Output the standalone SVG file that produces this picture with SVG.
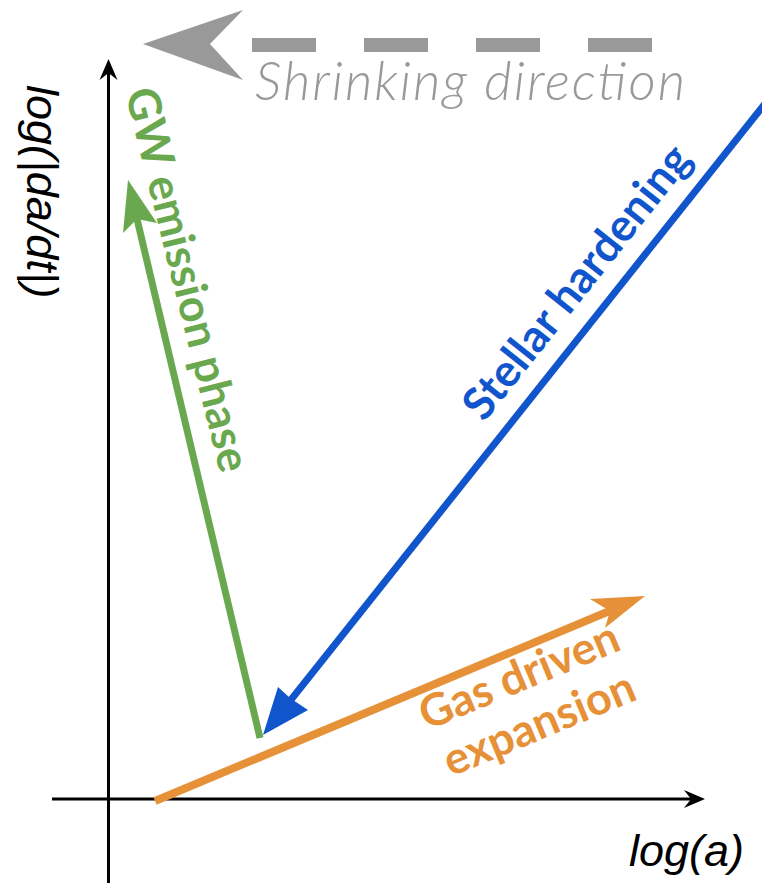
<svg xmlns="http://www.w3.org/2000/svg" width="762" height="883" viewBox="0 0 762 883">
  <style>
    .axis { stroke: #000; stroke-width: 3; fill: none; }
    .axis-head { fill: #000; }
    .axis-label { font-family: "Liberation Sans", Arial, sans-serif; font-style: italic; font-size: 45px; fill: #000; }
    .phase { font-family: Lato, "Open Sans", sans-serif; font-weight: bold; font-size: 45px; }
    .hint { font-family: Lato, "Open Sans", sans-serif; font-weight: 300; font-style: italic; font-size: 53px; fill: #999; }
  </style>
  <rect width="762" height="883" fill="#fff"/>

  <!-- axes -->
  <g id="axes">
    <line class="axis" x1="108.5" y1="883" x2="108.5" y2="72"/>
    <polygon class="axis-head" points="108.5,59 117.5,80 108.5,73 99.5,80"/>
    <line class="axis" x1="52" y1="799" x2="692" y2="799"/>
    <polygon class="axis-head" points="705,799 684,808 691,799 684,790"/>
    <text class="axis-label" x="629" y="866">log(a)</text>
    <text class="axis-label" transform="translate(27,85) rotate(90)">log(|da/dt|)</text>
  </g>

  <!-- direction hint -->
  <g id="shrinking">
    <polygon points="143,44 243,10 210,44 243,80" fill="#999"/>
    <line x1="252" y1="45" x2="655" y2="45" stroke="#999" stroke-width="14" stroke-dasharray="64 48"/>
    <text class="hint" x="255" y="100" textLength="430">Shrinking direction</text>
  </g>

  <!-- evolution phases -->
  <g id="connectors">
    <!-- gas driven expansion -->
    <line x1="155" y1="801" x2="612" y2="610" stroke="#e69138" stroke-width="8"/>
    <polygon points="645,596 590,599 610,611 605,628" fill="#e69138"/>
    <!-- stellar hardening -->
    <line x1="775" y1="91" x2="290" y2="701" stroke="#1155cc" stroke-width="7"/>
    <polygon points="263,735 278,687 290,698 308,710" fill="#1155cc"/>
    <!-- GW emission -->
    <line x1="260" y1="738" x2="137" y2="219" stroke="#6aa84f" stroke-width="7"/>
    <polygon points="128,180 157,223 137,219 123,233" fill="#6aa84f"/>
  </g>

  <g id="gw-label">
    <text class="phase" fill="#6aa84f" transform="translate(125,92) rotate(76)">GW emission phase</text>
  </g>
  <g id="stellar-label">
    <text class="phase" fill="#1155cc" font-size="48" transform="translate(484,423) rotate(-51.5)">Stellar hardening</text>
  </g>
  <g id="gas-label">
    <g transform="translate(525,690) rotate(-22.6)">
      <text class="phase" fill="#e69138" text-anchor="middle" x="0" y="0">Gas driven</text>
      <text class="phase" fill="#e69138" text-anchor="middle" x="0" y="52">expansion</text>
    </g>
  </g>
</svg>
